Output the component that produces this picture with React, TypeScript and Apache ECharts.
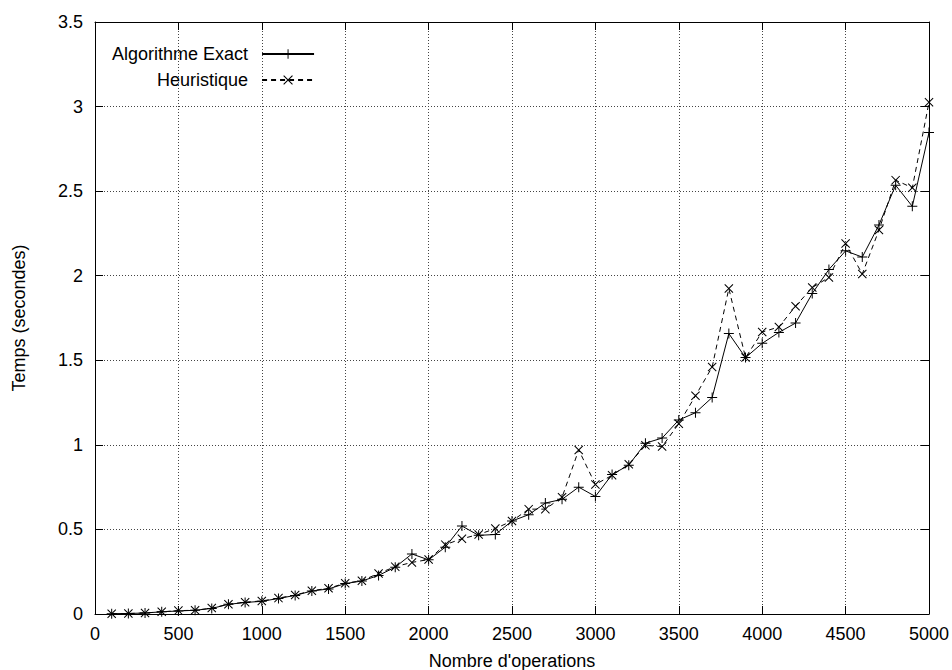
import React, { useEffect, useRef } from "react";
import * as echarts from "echarts";

const operations = [
  100, 200, 300, 400, 500, 600, 700, 800, 900, 1000,
  1100, 1200, 1300, 1400, 1500, 1600, 1700, 1800, 1900, 2000,
  2100, 2200, 2300, 2400, 2500, 2600, 2700, 2800, 2900, 3000,
  3100, 3200, 3300, 3400, 3500, 3600, 3700, 3800, 3900, 4000,
  4100, 4200, 4300, 4400, 4500, 4600, 4700, 4800, 4900, 5000,
];

const exactTimes = [
  0.002, 0.003, 0.006, 0.013, 0.018, 0.022, 0.033, 0.057, 0.068, 0.075,
  0.092, 0.11, 0.136, 0.148, 0.18, 0.195, 0.228, 0.277, 0.355, 0.32,
  0.395, 0.52, 0.465, 0.47, 0.55, 0.587, 0.656, 0.678, 0.75, 0.695,
  0.825, 0.88, 1.01, 1.04, 1.147, 1.19, 1.28, 1.658, 1.516, 1.6,
  1.665, 1.72, 1.895, 2.037, 2.147, 2.11, 2.3, 2.535, 2.41, 2.847,
];

const heuristicTimes = [
  0.002, 0.003, 0.006, 0.013, 0.02, 0.022, 0.035, 0.058, 0.07, 0.077,
  0.094, 0.112, 0.138, 0.152, 0.182, 0.197, 0.24, 0.28, 0.305, 0.322,
  0.41, 0.445, 0.47, 0.505, 0.55, 0.62, 0.62, 0.69, 0.97, 0.766,
  0.82, 0.885, 0.997, 0.99, 1.125, 1.29, 1.46, 1.924, 1.516, 1.667,
  1.697, 1.82, 1.93, 1.99, 2.19, 2.01, 2.27, 2.565, 2.52, 3.025,
];

const seriesNames = ["Algorithme Exact", "Heuristique"];
const xAxisTitle = "Nombre d'operations";
const yAxisTitle = "Temps (secondes)";

const PLUS =
  "path://M4.5,0 H5.5 V4.5 H10 V5.5 H5.5 V10 H4.5 V5.5 H0 V4.5 H4.5 Z";
const CROSS =
  "path://M0,0.8 L0.8,0 L5,4.2 L9.2,0 L10,0.8 L5.8,5 L10,9.2 L9.2,10 L5,5.8 L0.8,10 L0,9.2 L4.2,5 Z";

const FONT = "'Liberation Sans', Arial, Helvetica, sans-serif";

export default function App() {
  const ref = useRef<HTMLDivElement>(null);

  useEffect(() => {
    if (!ref.current) return;
    const chart = echarts.init(ref.current, null, { renderer: "svg" });
    const tickStyle = { show: true, inside: true, length: 8, lineStyle: { color: "#000", width: 1 } };
    const axisLine = { show: true, onZero: false, lineStyle: { color: "#000", width: 1 } };
    const split = { show: true, lineStyle: { color: "#444", width: 1, type: [1, 2] as any } };
    chart.setOption({
      animation: false,
      backgroundColor: "#fff",
      textStyle: { fontFamily: FONT },
      grid: {
        left: 95,
        right: 23,
        top: 22,
        bottom: 56,
        containLabel: false,
        outerBoundsMode: "none",
      },
      legend: {
        show: true,
        orient: "vertical",
        align: "right",
        left: 112,
        top: 45,
        padding: 0,
        itemWidth: 52,
        itemHeight: 12,
        itemGap: 8,
        data: seriesNames,
        textStyle: { fontFamily: FONT, fontSize: 18, color: "#000", padding: [0, 9, 0, 0] },
      },
      xAxis: [
        {
          type: "value",
          min: 0,
          max: 5000,
          interval: 500,
          position: "bottom",
          name: xAxisTitle,
          nameLocation: "middle",
          nameGap: 38,
          nameTextStyle: { fontFamily: FONT, fontSize: 18, color: "#000" },
          axisLine,
          axisTick: tickStyle,
          axisLabel: {
            fontFamily: FONT,
            fontSize: 18,
            color: "#000",
            margin: 11,
            formatter: (v: number) => String(v),
          },
          splitLine: split,
        },
        {
          type: "value",
          min: 0,
          max: 5000,
          interval: 500,
          position: "top",
          axisLine,
          axisTick: tickStyle,
          axisLabel: { show: false },
          splitLine: { show: false },
        },
      ],
      yAxis: [
        {
          type: "value",
          min: 0,
          max: 3.5,
          interval: 0.5,
          position: "left",
          name: yAxisTitle,
          nameLocation: "middle",
          nameGap: 67,
          nameRotate: 90,
          nameTextStyle: { fontFamily: FONT, fontSize: 18, color: "#000" },
          axisLine,
          axisTick: tickStyle,
          axisLabel: { fontFamily: FONT, fontSize: 18, color: "#000", margin: 12 },
          splitLine: split,
        },
        {
          type: "value",
          min: 0,
          max: 3.5,
          interval: 0.5,
          position: "right",
          axisLine,
          axisTick: tickStyle,
          axisLabel: { show: false },
          splitLine: { show: false },
        },
      ],
      series: [
        {
          name: seriesNames[0],
          type: "line",
          xAxisIndex: 0,
          yAxisIndex: 0,
          data: operations.map((x, i) => [x, exactTimes[i]]),
          symbol: PLUS,
          symbolSize: 10,
          showAllSymbol: true,
          color: "#000",
          itemStyle: { color: "#000" },
          lineStyle: { color: "#000", width: 1, type: "solid" },
        },
        {
          name: seriesNames[1],
          type: "line",
          xAxisIndex: 0,
          yAxisIndex: 0,
          data: operations.map((x, i) => [x, heuristicTimes[i]]),
          symbol: CROSS,
          symbolSize: 9,
          showAllSymbol: true,
          color: "#000",
          itemStyle: { color: "#000" },
          lineStyle: { color: "#000", width: 1, type: [5, 4] },
        },
      ],
    });
    return () => chart.dispose();
  }, []);

  return (
    <div
      ref={ref}
      style={{ position: "absolute", left: 0, top: 0, width: 952, height: 670 }}
    />
  );
}
